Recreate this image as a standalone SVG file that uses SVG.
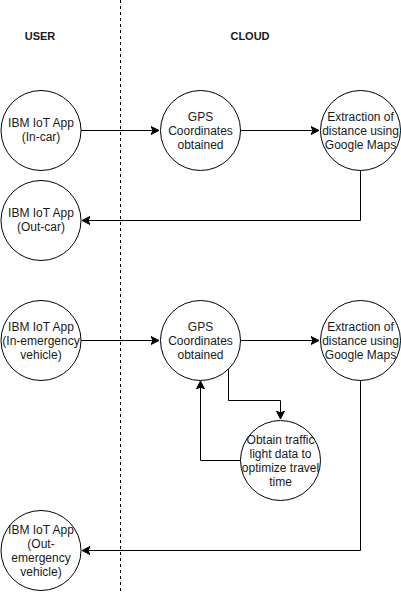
<svg xmlns="http://www.w3.org/2000/svg" width="401" height="592" viewBox="0 0 401 592">
<style>
.n{fill:#fff;stroke:#000;stroke-width:1}
.t{font-family:"Liberation Sans",Arial,sans-serif;font-size:12px;fill:#1a1a1a;text-anchor:middle}
.h{font-family:"Liberation Sans",Arial,sans-serif;font-size:11px;font-weight:bold;fill:#1a1a1a;text-anchor:middle}
.c{fill:none;stroke:#000;stroke-width:1}
</style>
<defs>
<marker id="a" markerWidth="10" markerHeight="10" refX="8" refY="5" orient="auto" markerUnits="userSpaceOnUse">
<path d="M0,1 L8,5 L0,9 L2,5 Z" fill="#000" stroke="#000" stroke-width="1"/>
</marker>
</defs>
<rect width="401" height="592" fill="#fff"/>
<line x1="120.5" y1="0" x2="120.5" y2="592" stroke="#000" stroke-dasharray="3,3"/>
<text class="h" x="40" y="40">USER</text>
<text class="h" x="250" y="40">CLOUD</text>
<g id="connectors">
<path class="c" d="M81,130.5 H159" marker-end="url(#a)"/>
<path class="c" d="M240,130.5 H319" marker-end="url(#a)"/>
<path class="c" d="M360.5,170 V220.5 H82" marker-end="url(#a)"/>
<path class="c" d="M81,340.5 H159" marker-end="url(#a)"/>
<path class="c" d="M240,340.5 H319" marker-end="url(#a)"/>
<path class="c" d="M228.5,368 V400.5 H280.5 V419" marker-end="url(#a)"/>
<path class="c" d="M240,460.5 H200.5 V381" marker-end="url(#a)"/>
<path class="c" d="M360.5,380 V550.5 H82" marker-end="url(#a)"/>
</g>
<g id="n1"><circle class="n" cx="41" cy="130.5" r="40"/><text class="t" x="41" y="127">IBM IoT App</text><text class="t" x="41" y="141">(In-car)</text></g>
<g id="n2"><circle class="n" cx="200.5" cy="130.5" r="40"/><text class="t" x="200.5" y="121">GPS</text><text class="t" x="200.5" y="135">Coordinates</text><text class="t" x="200.5" y="149">obtained</text></g>
<g id="n3"><circle class="n" cx="360.5" cy="130.5" r="40"/><text class="t" x="360.5" y="121">Extraction of</text><text class="t" x="360.5" y="135">distance using</text><text class="t" x="360.5" y="149">Google Maps</text></g>
<g id="n4"><circle class="n" cx="41" cy="220.5" r="40"/><text class="t" x="41" y="217">IBM IoT App</text><text class="t" x="41" y="231">(Out-car)</text></g>
<g id="n5"><circle class="n" cx="41" cy="340.5" r="40"/><text class="t" x="41" y="331">IBM IoT App</text><text class="t" x="41" y="345">(In-emergency</text><text class="t" x="41" y="359">vehicle)</text></g>
<g id="n6"><circle class="n" cx="200.5" cy="340.5" r="40"/><text class="t" x="200.5" y="331">GPS</text><text class="t" x="200.5" y="345">Coordinates</text><text class="t" x="200.5" y="359">obtained</text></g>
<g id="n7"><circle class="n" cx="360.5" cy="340.5" r="40"/><text class="t" x="360.5" y="331">Extraction of</text><text class="t" x="360.5" y="345">distance using</text><text class="t" x="360.5" y="359">Google Maps</text></g>
<g id="n8"><circle class="n" cx="280.5" cy="460.5" r="40"/><text class="t" x="280.5" y="444">Obtain traffic</text><text class="t" x="280.5" y="458">light data to</text><text class="t" x="280.5" y="472">optimize travel</text><text class="t" x="280.5" y="486">time</text></g>
<g id="n9"><circle class="n" cx="41" cy="550.5" r="40"/><text class="t" x="41" y="534">IBM IoT App</text><text class="t" x="41" y="548">(Out-</text><text class="t" x="41" y="562">emergency</text><text class="t" x="41" y="576">vehicle)</text></g>
</svg>
